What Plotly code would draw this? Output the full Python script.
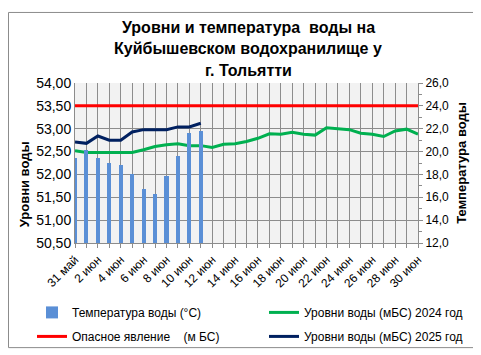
import plotly.graph_objects as go

categories = ["31 май"] + [f"{d} июн" for d in range(1, 31)]
temp_2025 = [19.4, 20.1, 19.4, 19.0, 18.8, 18.0, 16.7, 16.3, 17.9, 19.6, 21.6, 21.8]
level_2024 = [52.52, 52.48, 52.48, 52.48, 52.48, 52.48, 52.54, 52.61, 52.65, 52.67,
              52.63, 52.63, 52.59, 52.66, 52.67, 52.72, 52.79, 52.89, 52.88, 52.92,
              52.88, 52.86, 53.02, 53.00, 52.98, 52.90, 52.88, 52.83, 52.95, 52.99, 52.88]
level_2025 = [52.71, 52.68, 52.84, 52.75, 52.75, 52.93, 52.98, 52.98, 52.98, 53.04, 53.04, 53.12]
danger_level = [53.50] * len(categories)
left_ticks = [50.5, 51.0, 51.5, 52.0, 52.5, 53.0, 53.5, 54.0]
right_ticks = [12, 14, 16, 18, 20, 22, 24, 26]
title_lines = ["Уровни и температура  воды на", "Куйбышевском водохранилище у", "г. Тольятти"]

idx = list(range(len(categories)))
font = "Liberation Sans"
W, H = 481, 355
L, R, T, B = 67, 71, 75, 111
PW, PH = W - L - R, H - T - B


def px(xp):
    return (xp - L) / PW


def py(yp):
    return 1 - (yp - T) / PH


fig = go.Figure()
fig.add_trace(go.Bar(x=idx[:len(temp_2025)], y=temp_2025, yaxis="y2", width=0.36,
                     marker=dict(color="#5A8FD6", line=dict(width=0)),
                     name="Температура воды (°C)", legend="legend", legendgroup="a"))
fig.add_trace(go.Scatter(x=idx, y=level_2024, mode="lines",
                         line=dict(color="#00B050", width=3),
                         name="Уровни воды (мБС) 2024 год", legend="legend2", legendgroup="b"))
fig.add_trace(go.Scatter(x=idx, y=danger_level, mode="lines",
                         line=dict(color="#FF0000", width=3),
                         name="Опасное явление    (м БС)", legend="legend", legendgroup="c"))
fig.add_trace(go.Scatter(x=idx[:len(level_2025)], y=level_2025, mode="lines",
                         line=dict(color="#002060", width=3),
                         name="Уровни воды (мБС) 2025 год", legend="legend2", legendgroup="d"))

leg_common = dict(orientation="v", yanchor="top", xanchor="left",
                  font=dict(size=12, family=font, color="#000000"),
                  itemwidth=30, tracegroupgap=5, bgcolor="rgba(0,0,0,0)")

fig.update_layout(
    width=W, height=H,
    margin=dict(l=L, r=R, t=T, b=B),
    paper_bgcolor="white", plot_bgcolor="#F2F2F2",
    font=dict(family=font, color="#000000"),
    bargap=0,
    showlegend=True,
    legend=dict(x=px(24), y=py(302), **leg_common),
    legend2=dict(x=px(256), y=py(302), **leg_common),
    xaxis=dict(range=[0, 30], tickmode="array", tickvals=idx[::2],
               ticktext=categories[::2], tickangle=-45,
               showgrid=True, gridcolor="#8C8C8C", gridwidth=1,
               showline=True, linecolor="#8C8C8C",
               ticks="outside", ticklen=4, tickcolor="#8C8C8C",
               tickfont=dict(size=12, family=font, color="#000000"),
               zeroline=False,
               minor=dict(dtick=1, tick0=0, showgrid=True, gridcolor="#8C8C8C",
                          ticks="outside", ticklen=4, tickcolor="#8C8C8C")),
    yaxis=dict(range=[50.5, 54.0], tickmode="array", tickvals=left_ticks,
               ticktext=[f"{v:.2f}".replace(".", ",") for v in left_ticks],
               showgrid=True, gridcolor="#8C8C8C", gridwidth=1,
               showline=True, linecolor="#8C8C8C", zeroline=False,
               tickfont=dict(size=14, family=font, color="#000000")),
    yaxis2=dict(range=[12, 26], tickmode="array", tickvals=right_ticks,
                ticktext=[f"{v:.1f}".replace(".", ",") for v in right_ticks],
                overlaying="y", side="right", showgrid=False, zeroline=False,
                showline=True, linecolor="#8C8C8C",
                ticks="outside", ticklen=4, tickcolor="#8C8C8C",
                minor=dict(dtick=1, ticks="outside", ticklen=3, tickcolor="#8C8C8C"),
                tickfont=dict(size=12, family=font, color="#000000"),
                title=dict(text="<b>Температура воды</b>", standoff=8,
                           font=dict(size=13, family=font, color="#000000"))),
)

# title lines
for text, yc in zip(title_lines, [16, 39, 62]):
    fig.add_annotation(text=f"<b>{text}</b>", x=px(240), y=py(yc), xref="paper", yref="paper",
                       xanchor="center", yanchor="middle", showarrow=False,
                       font=dict(size=16, family=font, color="#000000"))

# left axis title
fig.add_annotation(text="<b>Уровни воды</b>", x=px(16), y=py(182), xref="paper", yref="paper",
                   xanchor="center", yanchor="middle", showarrow=False, textangle=-90,
                   font=dict(size=13, family=font, color="#000000"))

fig.add_shape(type="rect", xref="paper", yref="paper", x0=px(0.5), x1=px(480.5),
              y0=py(354.5), y1=py(0.5), line=dict(color="#8C8C8C", width=1),
              fillcolor="rgba(0,0,0,0)", layer="below")

fig.write_html("out.html")
